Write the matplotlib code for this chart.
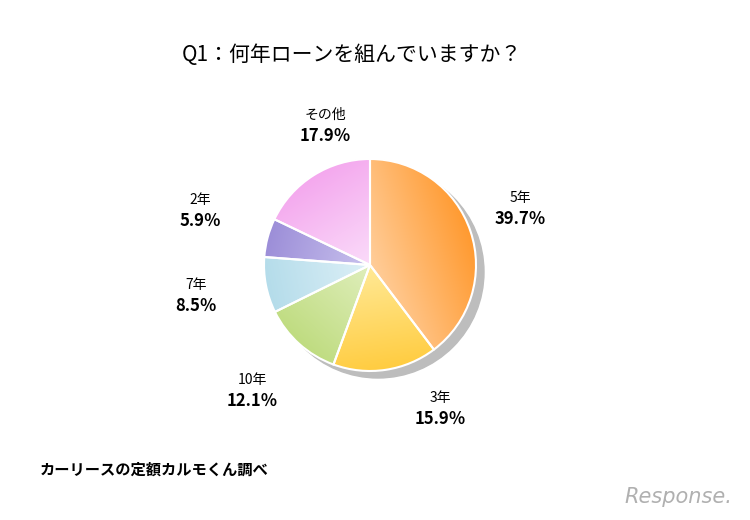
import numpy as np
import matplotlib
matplotlib.use("Agg")
import matplotlib.pyplot as plt
from matplotlib.patches import Circle

plt.rcParams["font.family"] = "Noto Sans CJK JP"

title = "Q1：何年ローンを組んでいますか？"
labels = ["5年", "3年", "10年", "7年", "2年", "その他"]
values = [39.7, 15.9, 12.1, 8.5, 5.9, 17.9]
dark = ["#FF9A30", "#FFCC40", "#BFDC80", "#B4DCEA", "#9C8ED8", "#F4A8EE"]
light = ["#FFD8B0", "#FFEFA8", "#E6F2C8", "#E6F4FA", "#D2CCF2", "#FCE6FC"]
label_pos = [(520, 198), (440, 398), (252, 380), (196, 285), (200, 200), (325, 115)]
source = "カーリースの定額カルモくん調べ"

fig = plt.figure(figsize=(7.5, 5.2), dpi=100)
ax = fig.add_axes([0, 0, 1, 1])
ax.set_xlim(0, 750)
ax.set_ylim(0, 520)
ax.axis("off")

cx, cy, r = 370, 255, 106
ax.add_patch(Circle((cx + 8, cy - 7), r, color="#BDBDBD", zorder=1))
wedges, _ = ax.pie(values, startangle=90, counterclock=False, center=(cx, cy),
                   radius=r, colors=dark, wedgeprops=dict(edgecolor="white", linewidth=1.5))
ax.set_aspect("equal")
ax.set_xlim(0, 750)
ax.set_ylim(0, 520)

# simple gradient fill per wedge
for w, c1, c2 in zip(wedges, light, dark):
    a = np.deg2rad((w.theta1 + w.theta2) / 2)
    yy, xx = np.mgrid[cy - r:cy + r:200j, cx - r:cx + r:200j]
    t = ((xx - cx) * np.cos(a) + (yy - cy) * np.sin(a)) / r
    t = np.clip((t + 0.2) / 1.2, 0, 1)
    c1v = np.array(matplotlib.colors.to_rgb(c1))
    c2v = np.array(matplotlib.colors.to_rgb(c2))
    img = c1v + (c2v - c1v) * t[..., None]
    im = ax.imshow(img, extent=(cx - r, cx + r, cy - r, cy + r), origin="lower", zorder=2)
    im.set_clip_path(w)
    w.set_zorder(3)
    w.set_facecolor("none")

for lab, v, (x, y) in zip(labels, values, label_pos):
    ax.text(x, 520 - y, lab, ha="center", va="center", fontsize=10)
    ax.text(x, 520 - y - 21, f"{v}％", ha="center", va="center", fontsize=12, fontweight="bold")

ax.text(352, 520 - 55, title, ha="center", va="center", fontsize=15)
ax.text(40, 520 - 470, source, ha="left", va="center", fontsize=11, fontweight="bold")
ax.text(678, 520 - 497, "Response.", ha="center", va="center", fontsize=15,
        style="italic", color="#B0B0B0", family="DejaVu Sans")

fig.savefig("out.png", dpi=100)
